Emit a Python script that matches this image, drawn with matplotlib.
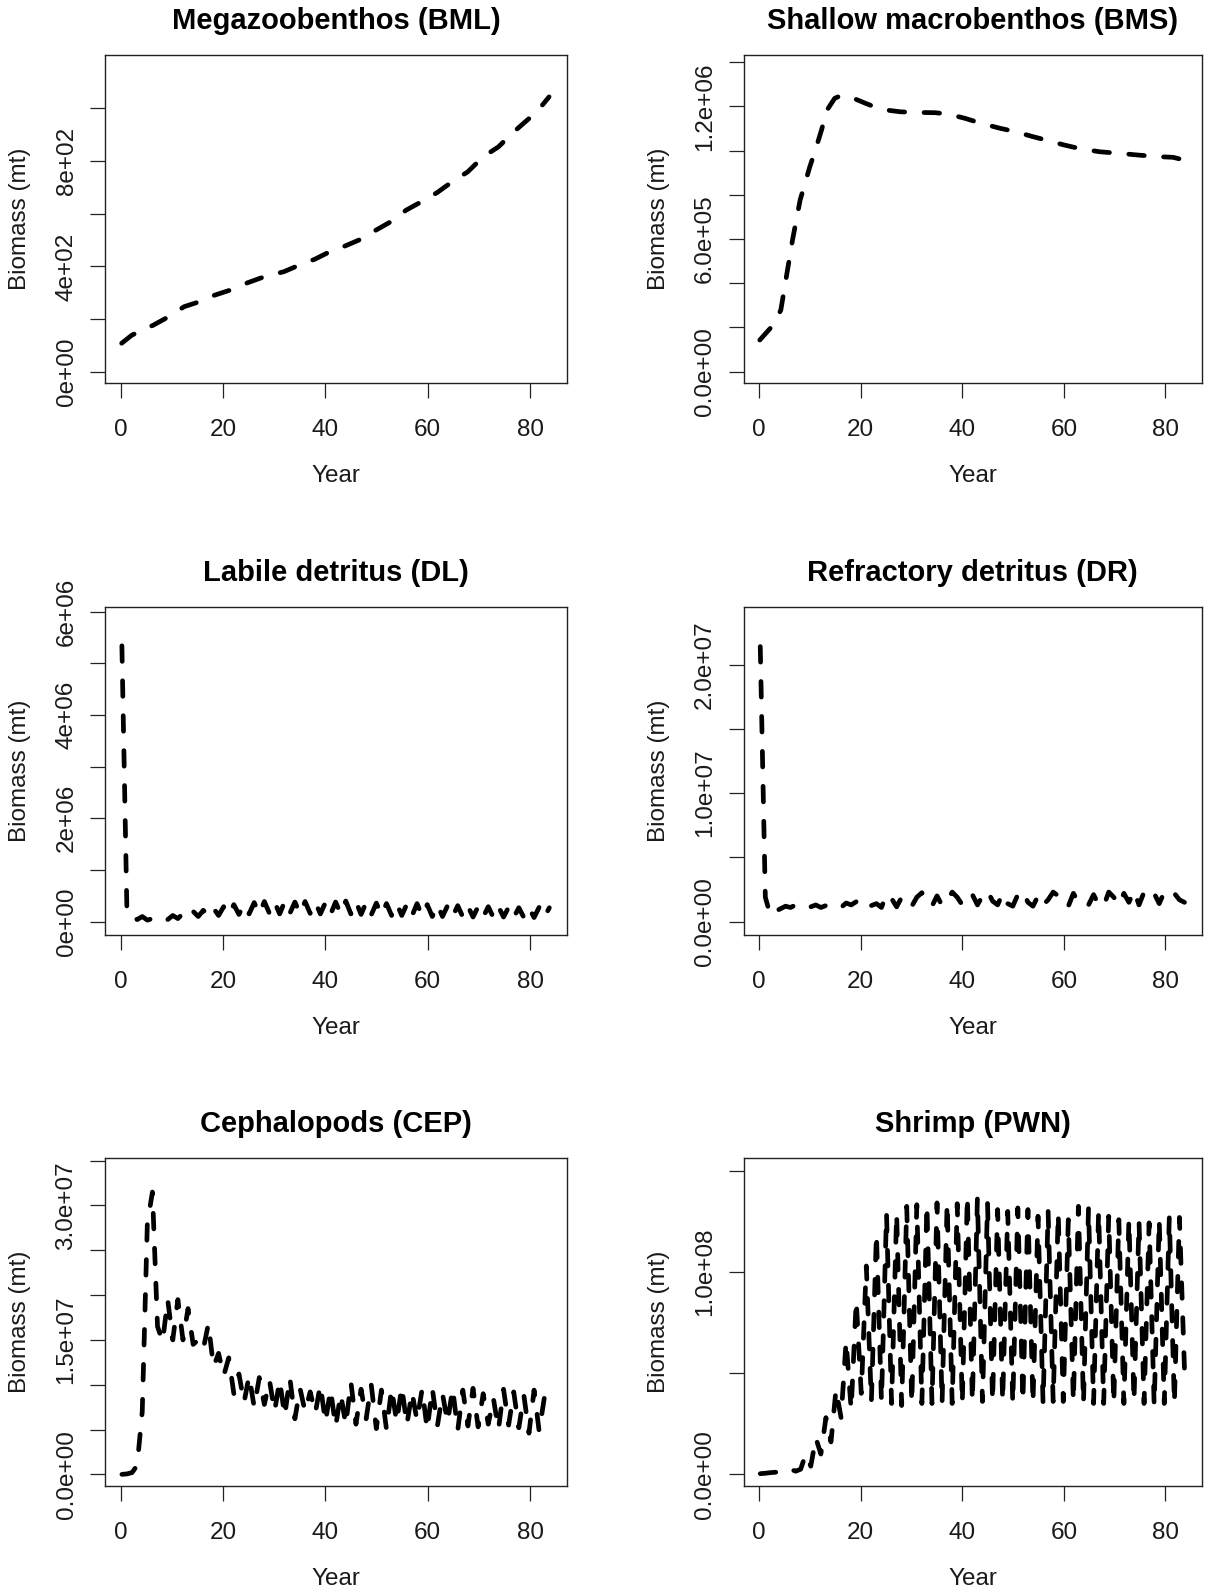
import numpy as np
import matplotlib
matplotlib.use("Agg")
import matplotlib.pyplot as plt

plt.rcParams['font.family'] = ['Liberation Sans', 'DejaVu Sans']

# ---------------- data ----------------
years = np.linspace(0.25, 83.75, 85)   # model output years

bml_years = [0.2, 2.2, 6.4, 9.4, 12.4, 15.4, 18.4, 21.4, 24.4, 28.1, 31.9, 34.9,
             37.9, 40.9, 43.9, 46.9, 49.9, 52.8, 55.8, 58.8, 61.8, 64.8, 67.8,
             70.8, 73.8, 76.8, 79.8, 82.1, 83.7]
bml_biomass = [108, 139, 177, 209, 247, 266, 291, 310, 335, 361, 380, 405, 427,
               456, 478, 503, 538, 570, 614, 646, 680, 722, 759, 816, 854, 911,
               962, 1006, 1044]

bms_years = [0.15, 2.8, 4.3, 5.5, 6.6, 8.1, 10.0, 11.1, 12.3, 13.4, 14.9, 16.4,
             17.9, 21.0, 24.0, 27.8, 30.8, 34.6, 37.2, 40.6, 43.7, 47.5, 50.5,
             53.5, 56.5, 60.0, 63.4, 67.1, 70.9, 74.7, 78.5, 81.5, 83.6]
bms_biomass = [143e3, 211e3, 279e3, 445e3, 596e3, 777e3, 927e3, 1.003e6, 1.093e6,
               1.184e6, 1.237e6, 1.252e6, 1.244e6, 1.214e6, 1.187e6, 1.176e6,
               1.173e6, 1.172e6, 1.166e6, 1.146e6, 1.124e6, 1.101e6, 1.086e6,
               1.066e6, 1.048e6, 1.026e6, 1.008e6, 0.995e6, 0.988e6, 0.980e6,
               0.973e6, 0.970e6, 0.958e6]

dl_biomass_e6 = [5.34, 0.15, 0.12, 0.04, 0.10, 0.03, 0.06, 0.05, 0.10, 0.04,
                 0.12, 0.06, 0.16, 0.08, 0.20, 0.10, 0.22, 0.11, 0.26, 0.12,
                 0.29, 0.13, 0.33, 0.14, 0.34, 0.15, 0.37, 0.15, 0.39, 0.16,
                 0.38, 0.15, 0.39, 0.16, 0.38, 0.15, 0.39, 0.16, 0.38, 0.15,
                 0.37, 0.14, 0.38, 0.15, 0.40, 0.15, 0.39, 0.14, 0.37, 0.13,
                 0.36, 0.13, 0.35, 0.12, 0.35, 0.12, 0.34, 0.11, 0.35, 0.11,
                 0.33, 0.10, 0.33, 0.10, 0.31, 0.10, 0.31, 0.09, 0.30, 0.09,
                 0.29, 0.09, 0.29, 0.08, 0.29, 0.09, 0.28, 0.08, 0.27, 0.08,
                 0.27, 0.08, 0.28, 0.08, 0.27]

dr_biomass_e6 = [21.4, 1.9, 0.5, 0.8, 1.0, 1.2, 1.1, 1.3, 1.1, 1.25,
                 1.15, 1.3, 1.1, 1.25, 1.05, 1.2, 1.1, 1.45, 1.3, 1.55,
                 1.2, 1.5, 1.25, 1.4, 1.1, 2.15, 1.8, 1.15, 1.9, 1.3,
                 1.2, 1.9, 2.25, 1.5, 1.2, 2.0, 1.25, 1.6, 2.3, 1.9,
                 1.3, 1.4, 2.1, 1.3, 2.0, 2.4, 1.6, 1.3, 2.2, 1.4,
                 1.2, 2.1, 2.4, 1.5, 1.2, 2.0, 1.3, 1.7, 2.3, 2.0,
                 1.3, 1.2, 2.2, 1.5, 1.2, 1.3, 2.1, 1.3, 1.2, 2.3,
                 1.9, 1.3, 2.2, 1.5, 2.4, 1.3, 2.3, 1.9, 2.2, 1.4,
                 2.3, 2.0, 2.2, 1.7, 1.5]

cep_biomass_e6 = [0.0, 0.05, 0.2, 1.0, 7.0, 28.0, 31.5, 16.5, 14.8, 19.5,
                  15.0, 19.5, 15.0, 18.5, 14.5, 15.0, 14.0, 16.8, 12.0, 13.5,
                  11.0, 13.0, 9.0, 11.2, 8.0, 11.0, 7.5, 10.8, 7.8, 10.5,
                  7.0, 10.5, 6.5, 10.8, 6.2, 9.6, 7.0, 9.2, 6.8, 10.0,
                  5.8, 9.5, 5.3, 9.0, 5.5, 10.3, 5.6, 9.5, 6.2, 10.0,
                  5.1, 9.4, 5.0, 9.6, 5.8, 9.8, 5.5, 9.2, 6.0, 9.5,
                  5.0, 9.6, 5.4, 9.0, 5.8, 9.6, 4.9, 9.4, 5.4, 9.6,
                  5.3, 9.0, 5.6, 8.5, 5.0, 9.5, 5.5, 9.2, 5.2, 8.8,
                  4.6, 9.4, 4.8, 8.5, 6.5]

pwn_biomass_e6 = [0.3, 0.5, 0.8, 1.0, 1.2, 0.8, 2.5, 1.5, 2.5, 10.0,
                  4.0, 18.0, 10.0, 28.0, 16.0, 42.0, 28.0, 66.0, 32.0, 86.0,
                  40.0, 103.0, 36.0, 119.0, 36.0, 129.0, 35.0, 129.0, 34.0, 132.5,
                  35.0, 133.3, 35.0, 133.3, 35.0, 134.2, 35.0, 134.2, 35.0, 133.8,
                  35.0, 137.5, 36.0, 136.6, 36.0, 134.2, 36.0, 130.9, 36.0, 130.0,
                  35.0, 131.7, 36.0, 130.9, 35.0, 127.6, 35.0, 130.0, 36.0, 129.2,
                  36.0, 125.9, 36.0, 132.5, 35.0, 131.7, 35.0, 130.0, 35.0, 127.6,
                  35.0, 125.9, 35.0, 125.9, 36.0, 125.1, 35.0, 124.3, 34.0, 125.9,
                  35.0, 127.2, 35.0, 127.0, 52.0]

titles = ["Megazoobenthos (BML)", "Shallow macrobenthos (BMS)",
          "Labile detritus (DL)", "Refractory detritus (DR)",
          "Cephalopods (CEP)", "Shrimp (PWN)"]

xticks = [0, 20, 40, 60, 80]
yticks = [[0, 200, 400, 600, 800, 1000],
          [0, 2e5, 4e5, 6e5, 8e5, 1e6, 1.2e6, 1.4e6],
          [0, 1e6, 2e6, 3e6, 4e6, 5e6, 6e6],
          [0, 5e6, 1e7, 1.5e7, 2e7],
          [0, 5e6, 1e7, 1.5e7, 2e7, 2.5e7, 3e7, 3.5e7],
          [0, 5e7, 1e8, 1.5e8]]
ytick_labels = [["0e+00", "", "4e+02", "", "8e+02", ""],
                ["0.0e+00", "", "", "6.0e+05", "", "", "1.2e+06", ""],
                ["0e+00", "", "2e+06", "", "4e+06", "", "6e+06"],
                ["0.0e+00", "", "1.0e+07", "", "2.0e+07"],
                ["0.0e+00", "", "", "1.5e+07", "", "", "3.0e+07", ""],
                ["0.0e+00", "", "1.0e+08", ""]]
ylims = [(-44, 1203), (-52.8e3, 1.433e6), (-0.258e6, 6.097e6),
         (-1.04e6, 24.5e6), (-1.3e6, 35.3e6), (-5.8e6, 156.4e6)]

series = [(bml_years, bml_biomass),
          (bms_years, bms_biomass),
          (years, np.array(dl_biomass_e6) * 1e6),
          (years, np.array(dr_biomass_e6) * 1e6),
          (years, np.array(cep_biomass_e6) * 1e6),
          (years, np.array(pwn_biomass_e6) * 1e6)]

# ---------------- layout (pixels of the 1207x1593 canvas) ----------------
W, H = 1207, 1593
col_x = [(105.0, 567.0), (743.5, 1202.0)]
row_y = [(55.0, 383.3), (606.7, 935.0), (1158.0, 1486.0)]

fig = plt.figure(figsize=(W / 100, H / 100), dpi=100)
fig.patch.set_facecolor("white")

FS = 17.5
TXT = "#1a1a1a"
for k in range(6):
    r, c = divmod(k, 2)
    x0, x1 = col_x[c]
    y0, y1 = row_y[r]
    ax = fig.add_axes([x0 / W, 1 - y1 / H, (x1 - x0) / W, (y1 - y0) / H])
    xs, ys = series[k]
    ax.plot(xs, ys, color="black", lw=3.4, linestyle=(0, (3.3, 4.1)),
            dash_capstyle="round", solid_capstyle="round",
            dash_joinstyle="round")
    ax.set_xlim(-3.05, 87.2)
    ax.set_ylim(*ylims[k])
    ax.set_xticks(xticks)
    ax.set_xticklabels([str(v) for v in xticks])
    ax.set_yticks(yticks[k])
    ax.set_yticklabels(ytick_labels[k], rotation=90, va="center", ha="right")
    for s in ax.spines.values():
        s.set_linewidth(1.0)
        s.set_color("#222222")
    ax.tick_params(axis="both", direction="out", length=10.8, width=0.9,
                   colors="#222222", labelcolor=TXT, labelsize=FS)
    ax.tick_params(axis="x", pad=15)
    ax.tick_params(axis="y", pad=9)
    hbox = y1 - y0
    wbox = x1 - x0
    ax.text(0.5, 1 + 34 / hbox, titles[k], transform=ax.transAxes,
            ha="center", va="center", fontsize=21, fontweight="bold",
            color="black")
    ax.text(0.5, -93 / hbox, "Year", transform=ax.transAxes,
            ha="center", va="center", fontsize=FS, color=TXT)
    ax.text(-85 / wbox, 0.5, "Biomass (mt)", transform=ax.transAxes,
            ha="center", va="center", rotation=90, fontsize=FS, color=TXT)

fig.savefig("out.png", dpi=100, facecolor="white")
